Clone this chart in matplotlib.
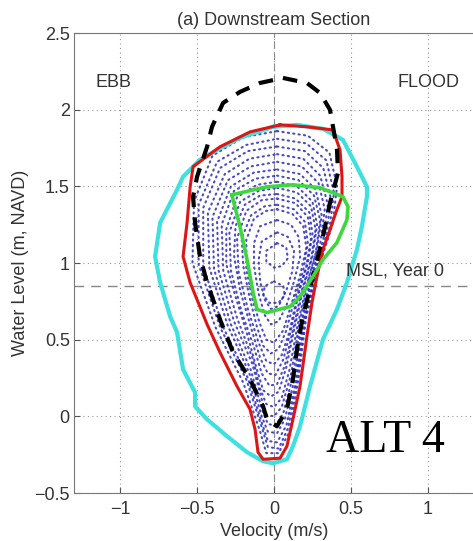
import numpy as np
import matplotlib
matplotlib.use('Agg')
import matplotlib.pyplot as plt

# outlines (velocity m/s, water level m NAVD)
cyan_x = [-0.006, 0.149, 0.318, 0.448, 0.539, 0.604, 0.604, 0.571, 0.539, 0.474, 0.409, 0.318, 0.234,
          0.169, 0.123, 0.084, -0.006, -0.071, -0.175, -0.305, -0.435, -0.513, -0.513, -0.591,
          -0.630, -0.675, -0.740, -0.773, -0.740, -0.630, -0.591, -0.481, -0.370, -0.221, -0.006]
cyan_y = [1.888, 1.901, 1.875, 1.803, 1.628, 1.497, 1.432, 1.237, 1.087, 0.872, 0.697, 0.501, 0.195,
          -0.065, -0.195, -0.280, -0.306, -0.293, -0.234, -0.130, -0.020, 0.065, 0.156, 0.306,
          0.547, 0.651, 0.872, 1.042, 1.263, 1.478, 1.563, 1.673, 1.738, 1.816, 1.888]

red_x = [0.039, 0.214, 0.383, 0.429, 0.442, 0.442, 0.409, 0.364, 0.318, 0.279, 0.247, 0.214, 0.169,
         0.123, 0.084, 0.039, -0.071, -0.104, -0.123, -0.156, -0.240, -0.351, -0.435, -0.545, -0.591,
         -0.565, -0.545, -0.526, -0.351, -0.156, 0.039]
red_y = [1.901, 1.888, 1.868, 1.738, 1.563, 1.432, 1.348, 1.217, 1.087, 0.911, 0.742, 0.521, 0.195,
         -0.020, -0.195, -0.273, -0.280, -0.234, -0.085, 0.046, 0.195, 0.417, 0.600, 0.872, 1.042,
         1.263, 1.497, 1.628, 1.758, 1.855, 1.901]

black_x = [0.058, 0.214, 0.299, 0.364, 0.409, 0.416, 0.364, 0.318, 0.253, 0.188, 0.156, 0.123, 0.084,
           0.019, -0.045, -0.071, -0.156, -0.266, -0.351, -0.435, -0.481, -0.513, -0.526,
           -0.500, -0.435, -0.403, -0.331, -0.221, -0.091, 0.058]
black_y = [2.207, 2.174, 2.109, 1.999, 1.745, 1.589, 1.393, 1.172, 0.911, 0.651, 0.480, 0.241, 0.046,
           -0.065, -0.020, 0.065, 0.241, 0.417, 0.632, 0.872, 1.042, 1.263, 1.432,
           1.563, 1.758, 1.888, 2.044, 2.116, 2.174, 2.207]

green_x = [-0.273, -0.045, 0.123, 0.299, 0.448, 0.481, 0.474, 0.409, 0.318, 0.253, 0.169, 0.104,
           -0.045, -0.110, -0.136, -0.175, -0.221, -0.266, -0.273]
green_y = [1.445, 1.497, 1.510, 1.491, 1.432, 1.367, 1.282, 1.133, 1.022, 0.911, 0.781, 0.716,
           0.677, 0.697, 0.807, 1.022, 1.237, 1.413, 1.445]

# blue model loops (dotted), outer to inner
loop1 = [(0.02, 1.86), (0.22, 1.83), (0.36, 1.72), (0.41, 1.50), (0.38, 1.25), (0.30, 1.00), (0.21, 0.65),
         (0.16, 0.25), (0.10, -0.10), (0.03, -0.24), (-0.05, -0.24), (-0.09, -0.10), (-0.20, 0.22),
         (-0.38, 0.58), (-0.53, 1.00), (-0.52, 1.40), (-0.40, 1.70), (-0.20, 1.82), (0.02, 1.86)]
loop1b = [(0.02, 1.81), (0.21, 1.78), (0.34, 1.67), (0.39, 1.46), (0.36, 1.22), (0.28, 0.98), (0.20, 0.62),
          (0.15, 0.24), (0.09, -0.08), (0.03, -0.21), (-0.04, -0.20), (-0.08, -0.07), (-0.18, 0.24),
          (-0.35, 0.58), (-0.49, 0.99), (-0.49, 1.38), (-0.37, 1.66), (-0.18, 1.77), (0.02, 1.81)]
loop2 = [(0.02, 1.76), (0.20, 1.73), (0.32, 1.62), (0.37, 1.42), (0.34, 1.18), (0.27, 0.95), (0.19, 0.60),
         (0.14, 0.22), (0.08, -0.06), (0.02, -0.17), (-0.04, -0.16), (-0.08, -0.04), (-0.17, 0.25),
         (-0.33, 0.58), (-0.46, 0.98), (-0.46, 1.36), (-0.35, 1.62), (-0.17, 1.73), (0.02, 1.76)]
loop2b = [(0.02, 1.71), (0.19, 1.68), (0.30, 1.57), (0.35, 1.38), (0.32, 1.15), (0.25, 0.92), (0.18, 0.59),
          (0.13, 0.23), (0.07, -0.02), (0.02, -0.11), (-0.04, -0.10), (-0.08, 0.00), (-0.16, 0.28),
          (-0.30, 0.59), (-0.42, 0.97), (-0.43, 1.33), (-0.32, 1.58), (-0.16, 1.68), (0.02, 1.71)]
loop3 = [(0.02, 1.66), (0.18, 1.63), (0.29, 1.52), (0.33, 1.35), (0.30, 1.12), (0.24, 0.90), (0.17, 0.58),
         (0.12, 0.25), (0.06, 0.02), (0.01, -0.06), (-0.04, -0.05), (-0.08, 0.05), (-0.15, 0.30),
         (-0.28, 0.60), (-0.39, 0.96), (-0.40, 1.30), (-0.30, 1.54), (-0.15, 1.63), (0.02, 1.66)]
loop3b = [(0.02, 1.61), (0.17, 1.58), (0.27, 1.48), (0.31, 1.31), (0.28, 1.09), (0.22, 0.87), (0.16, 0.58),
          (0.11, 0.27), (0.05, 0.06), (0.0, 0.00), (-0.05, 0.01), (-0.08, 0.11), (-0.14, 0.34),
          (-0.26, 0.62), (-0.36, 0.95), (-0.37, 1.27), (-0.28, 1.50), (-0.13, 1.59), (0.02, 1.61)]
loop4 = [(0.02, 1.57), (0.16, 1.54), (0.26, 1.44), (0.30, 1.28), (0.27, 1.06), (0.21, 0.85), (0.15, 0.58),
         (0.10, 0.30), (0.05, 0.12), (0.0, 0.06), (-0.05, 0.08), (-0.09, 0.18), (-0.14, 0.38),
         (-0.24, 0.64), (-0.33, 0.95), (-0.34, 1.25), (-0.26, 1.47), (-0.12, 1.55), (0.02, 1.57)]
loop4b = [(0.02, 1.53), (0.15, 1.50), (0.25, 1.40), (0.28, 1.25), (0.25, 1.04), (0.19, 0.83), (0.13, 0.56),
          (0.08, 0.32), (0.03, 0.16), (-0.02, 0.13), (-0.07, 0.17), (-0.11, 0.30), (-0.17, 0.52),
          (-0.25, 0.78), (-0.31, 0.99), (-0.31, 1.22), (-0.24, 1.43), (-0.11, 1.51), (0.02, 1.53)]
loop5 = [(0.02, 1.49), (0.15, 1.46), (0.24, 1.37), (0.27, 1.22), (0.24, 1.02), (0.18, 0.82), (0.12, 0.55),
         (0.07, 0.33), (0.02, 0.21), (-0.03, 0.20), (-0.08, 0.28), (-0.13, 0.45), (-0.21, 0.68),
         (-0.28, 0.95), (-0.29, 1.20), (-0.22, 1.40), (-0.10, 1.47), (0.02, 1.49)]
loop5b = [(0.02, 1.45), (0.14, 1.42), (0.23, 1.33), (0.25, 1.19), (0.22, 1.00), (0.16, 0.80), (0.11, 0.56),
          (0.06, 0.37), (0.01, 0.27), (-0.04, 0.28), (-0.09, 0.38), (-0.15, 0.58), (-0.22, 0.82),
          (-0.26, 1.05), (-0.25, 1.24), (-0.19, 1.38), (-0.09, 1.44), (0.02, 1.45)]
loop6 = [(0.02, 1.42), (0.14, 1.39), (0.22, 1.30), (0.24, 1.16), (0.21, 0.98), (0.15, 0.78), (0.10, 0.55),
         (0.05, 0.40), (0.0, 0.34), (-0.05, 0.36), (-0.10, 0.48), (-0.17, 0.70), (-0.23, 0.94),
         (-0.24, 1.16), (-0.18, 1.34), (-0.08, 1.41), (0.02, 1.42)]
loop6b = [(0.02, 1.38), (0.13, 1.35), (0.20, 1.27), (0.22, 1.13), (0.19, 0.95), (0.13, 0.75), (0.08, 0.56),
          (0.03, 0.44), (-0.02, 0.41), (-0.07, 0.46), (-0.11, 0.58), (-0.16, 0.78), (-0.20, 0.98),
          (-0.21, 1.16), (-0.15, 1.31), (-0.06, 1.37), (0.02, 1.38)]
loop7 = [(0.02, 1.35), (0.12, 1.32), (0.19, 1.24), (0.21, 1.10), (0.17, 0.92), (0.11, 0.72), (0.06, 0.56),
         (0.0, 0.48), (-0.05, 0.50), (-0.09, 0.60), (-0.14, 0.76), (-0.18, 0.96), (-0.18, 1.15),
         (-0.13, 1.29), (-0.05, 1.34), (0.02, 1.35)]
loop8 = [(0.02, 1.28), (0.11, 1.25), (0.16, 1.17), (0.17, 1.04), (0.13, 0.88), (0.08, 0.72), (0.03, 0.62),
         (-0.02, 0.60), (-0.06, 0.66), (-0.10, 0.80), (-0.13, 0.98), (-0.13, 1.13), (-0.09, 1.24), (0.02, 1.28)]
loop9 = [(0.02, 1.20), (0.09, 1.17), (0.13, 1.08), (0.12, 0.95), (0.08, 0.82), (0.03, 0.72), (-0.02, 0.70),
         (-0.06, 0.76), (-0.09, 0.88), (-0.10, 1.02), (-0.08, 1.14), (0.02, 1.20)]
eye_upper = [(0.02, 1.13), (0.08, 1.10), (0.09, 1.03), (0.05, 0.98), (0.0, 0.97), (-0.05, 1.01),
             (-0.05, 1.08), (0.02, 1.13)]
eye_lower = [(0.0, 0.88), (0.06, 0.85), (0.07, 0.79), (0.03, 0.74), (-0.03, 0.74), (-0.07, 0.79),
             (-0.06, 0.85), (0.0, 0.88)]
blue_loops = [loop1, loop1b, loop2, loop2b, loop3, loop3b, loop4, loop4b, loop5, loop5b,
              loop6, loop6b, loop7, loop8, loop9, eye_upper, eye_lower]

msl = 0.85
xticks = [-1, -0.5, 0, 0.5, 1]
xtick_labels = ['\u22121', '\u22120.5', '0', '0.5', '1']
yticks = [-0.5, 0, 0.5, 1, 1.5, 2, 2.5]
ytick_labels = ['\u22120.5', '0', '0.5', '1', '1.5', '2', '2.5']

plt.rcParams['font.family'] = ['Liberation Sans', 'DejaVu Sans']
txt = '#333333'
fs = 13

fig = plt.figure(figsize=(4.73, 5.41), dpi=100)
ax = fig.add_axes([74 / 473, 48 / 541, 400 / 473, 460 / 541])

for lp in blue_loops:
    a = np.array(lp)
    ax.plot(a[:, 0], a[:, 1], color='#2a2ac0', lw=1.5, linestyle=(0, (0.6, 2.0)),
            dash_capstyle='round', alpha=0.85, zorder=2)

ax.axhline(msl, color='#888888', lw=1, linestyle=(0, (7, 5)), zorder=1)
ax.axvline(0, color='#888888', lw=0.8, linestyle=(0, (7, 3)), zorder=1)

ax.plot(cyan_x, cyan_y, color='#3ee0e0', lw=3.0, zorder=3)
ax.plot(red_x, red_y, color='#dd1515', lw=2.2, zorder=4)
ax.plot(black_x, black_y, color='black', lw=3.0, linestyle=(0, (3.5, 2.5)), zorder=5)
ax.plot(green_x, green_y, color='#3ed83e', lw=2.6, zorder=6)

ax.set_xlim(-1.3, 1.3)
ax.set_ylim(-0.5, 2.5)
ax.set_xticks(xticks)
ax.set_xticklabels(xtick_labels)
ax.set_yticks(yticks)
ax.set_yticklabels(ytick_labels)
ax.tick_params(direction='in', length=4, colors='#555555', labelcolor=txt, labelsize=fs)
ax.tick_params(axis='x', pad=6)
ax.tick_params(axis='y', pad=3)
ax.grid(True, color='#999999', linestyle=(0, (1, 3)), lw=0.8)
for s in ax.spines.values():
    s.set_color('#777777')
    s.set_linewidth(0.8)

ax.set_title('(a) Downstream Section', fontsize=fs, color=txt, pad=6)
ax.set_xlabel('Velocity (m/s)', fontsize=fs, color=txt, labelpad=3)
ax.set_ylabel('Water Level (m, NAVD)', fontsize=fs, color=txt, labelpad=4)

ax.text(-1.16, 2.18, 'EBB', fontsize=fs, color=txt, va='center')
ax.text(0.80, 2.18, 'FLOOD', fontsize=fs, color=txt, va='center')
ax.text(0.47, 0.95, 'MSL, Year 0', fontsize=fs, color=txt, va='center')
ax.text(0.34, -0.234, 'ALT 4', fontsize=33, family='Liberation Serif', color='black', va='baseline')

fig.savefig('out.png', dpi=100)
